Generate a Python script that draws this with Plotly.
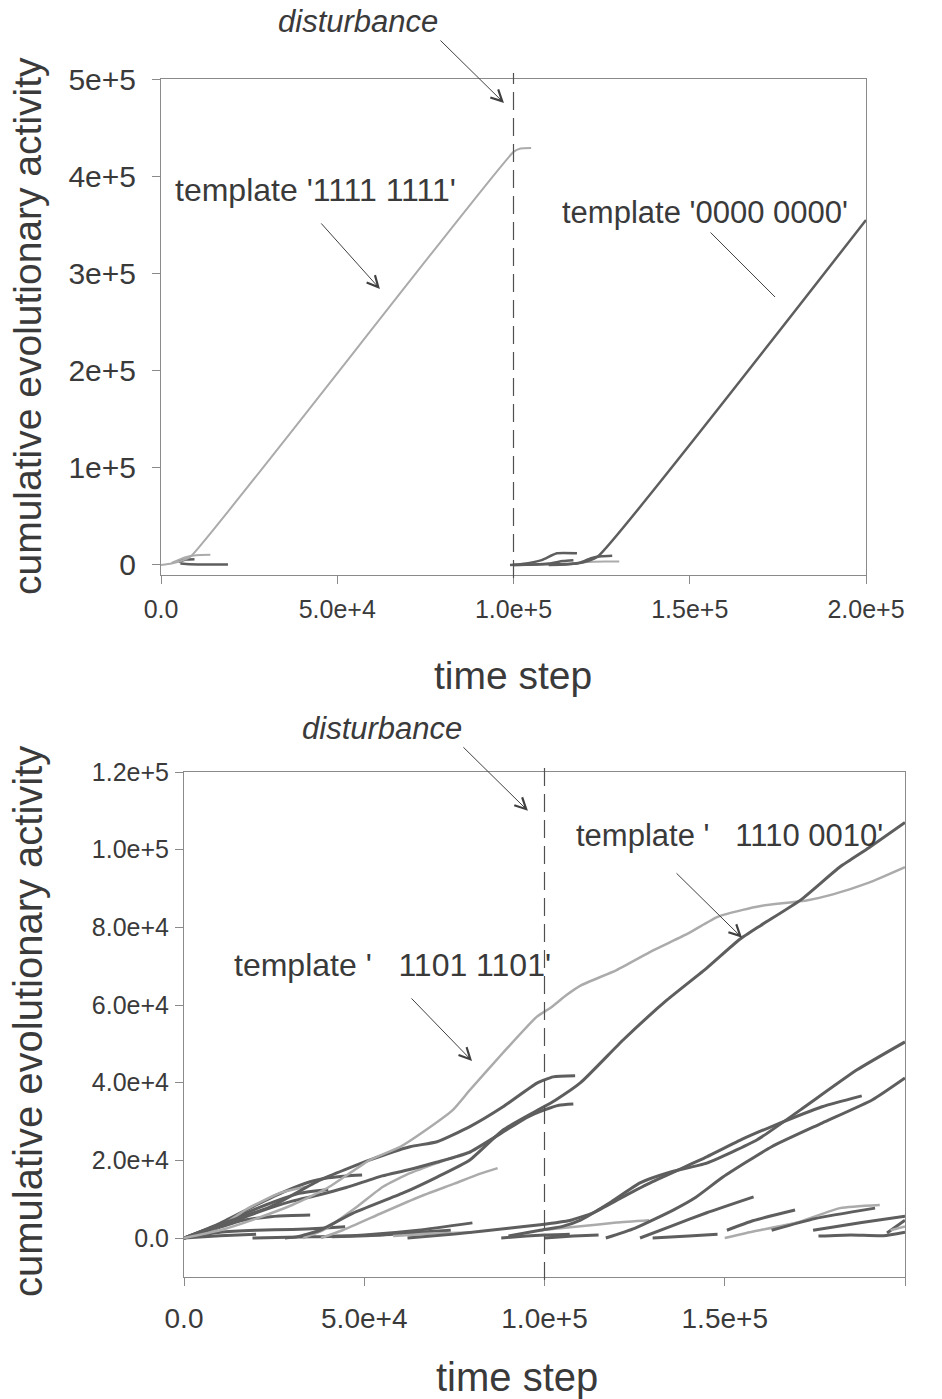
import plotly.graph_objects as go

# ---------------- data: top panel ----------------
top_t1111_x = [0, 3000, 6000, 8500, 100000, 102000, 105000]
top_t1111_y = [0, 1500, 4500, 9000, 425000, 428500, 429000]

top_e1_x = [5500, 8000, 12000, 19000]
top_e1_y = [1500, 800, 600, 500]
top_e2_x = [5000, 7000, 9500]
top_e2_y = [3000, 5500, 6000]
top_e3_x = [3000, 7000, 10000, 14000]
top_e3_y = [2000, 8000, 10000, 10500]

top_t0000_x = [100000, 106000, 112000, 118000, 121000, 124000, 200000]
top_t0000_y = [0, 500, 800, 1500, 4000, 9000, 355000]
top_p1_x = [99000, 102400, 108000, 112300, 118000]
top_p1_y = [0, 1000, 5000, 12000, 12000]
top_p2_x = [100000, 106000, 110000, 114000, 117000]
top_p2_y = [0, 500, 1500, 4000, 5000]
top_p3_x = [110000, 115000, 119000, 122000, 125000, 128000]
top_p3_y = [0, 500, 2500, 7000, 9000, 9500]
top_p4_x = [112000, 117000, 121000, 126000, 130000]
top_p4_y = [500, 1500, 3000, 3500, 3500]

top_xticks = [0, 50000, 100000, 150000, 200000]
top_xlabels = ["0.0", "5.0e+4", "1.0e+5", "1.5e+5", "2.0e+5"]
top_yticks = [0, 100000, 200000, 300000, 400000, 500000]
top_ylabels = ["0", "1e+5", "2e+5", "3e+5", "4e+5", "5e+5"]

# ---------------- data: bottom panel ----------------
bot_t1101_x = [0, 10000, 20000, 30000, 40000, 51600, 60000, 66300, 74600, 79300, 88500, 97900,
               102000, 106000, 110000, 120000, 130000, 140000, 148000, 155000, 160000, 173000,
               180000, 190000, 200000]
bot_t1101_y = [0, 2000, 5000, 8500, 13000, 20100, 23500, 27300, 33000, 38100, 47700, 57000,
               59500, 62500, 65000, 69000, 74000, 78500, 82700, 84500, 85500, 87000,
               88500, 91500, 95500]
bot_t1110_x = [28000, 31300, 37700, 46900, 60800, 70200, 79300, 88500, 97900, 103000,
               110000, 121800, 134000, 145000, 154000, 160000, 171000, 182000, 190000, 200000]
bot_t1110_y = [0, 300, 2000, 6400, 11600, 15700, 20100, 27800, 32800, 35500,
               40000, 51000, 61300, 69500, 76800, 80500, 87000, 95600, 100500, 107000]

bot_d1_x = [0, 10000, 23900, 37700, 51600, 62700, 70200, 79300, 88500, 97900, 102400, 108500]
bot_d1_y = [0, 3500, 8000, 14900, 20100, 23500, 24800, 28700, 33800, 39900, 41500, 41800]
bot_d3_x = [0, 10000, 20000, 30000, 37000, 45000, 55000, 62000, 70000, 79000, 88000, 95000,
            100000, 104000, 108000]
bot_d3_y = [0, 3000, 6500, 9500, 11000, 13000, 16000, 17500, 19500, 22000, 27000, 31000,
            33000, 34200, 34500]
bot_d4_x = [62000, 75000, 90000, 98800, 107000, 113500, 121800, 130000, 145000, 155000, 163000,
            177000, 188000]
bot_d4_y = [0, 1000, 2500, 3400, 4500, 6500, 10600, 14500, 20900, 25500, 28700, 33800, 36600]
bot_d5_x = [90000, 98800, 105000, 110000, 118000, 126500, 135000, 145000, 159000, 171000,
            186700, 200000]
bot_d5_y = [500, 2000, 3000, 4600, 9000, 14200, 17000, 19300, 25300, 33000, 43300, 50500]
bot_d6_x = [117000, 125000, 135700, 142000, 149500, 163000, 177000, 191000, 200000]
bot_d6_y = [0, 2500, 7200, 10500, 15700, 23500, 29600, 35600, 41200]

bot_s1_x = [0, 10000, 20000, 28000, 35000, 40000, 45000, 49400]
bot_s1_y = [0, 3800, 8500, 12000, 14500, 15500, 16000, 16200]
bot_s2_x = [0, 8000, 16000, 24000, 32000, 40000]
bot_s2_y = [0, 2800, 6000, 9000, 11500, 12500]
bot_s3_x = [0, 8000, 16000, 24000, 30000, 35000]
bot_s3_y = [0, 2200, 4500, 5500, 5800, 5900]
bot_s4_x = [0, 10000, 20000, 30000, 38000, 44700]
bot_s4_y = [0, 1500, 2000, 2200, 2500, 2900]
bot_s5_x = [0, 10000, 17500, 26600, 34000]
bot_s5_y = [0, 3000, 7500, 11600, 13200]
bot_s6_x = [33000, 38600, 47900, 55200, 62700, 70200, 79300]
bot_s6_y = [0, 2000, 8000, 13200, 16700, 19300, 22200]
bot_s7_x = [38000, 44000, 55000, 65000, 75000, 82000, 87000]
bot_s7_y = [0, 2000, 6500, 10500, 14000, 16500, 18000]

bot_f1_x = [19000, 35000, 50000, 65000, 80000]
bot_f1_y = [0, 300, 800, 2000, 3900]
bot_f2_x = [41000, 55000, 65000, 74000]
bot_f2_y = [300, 800, 1500, 2000]
bot_f3_x = [58000, 70000, 80000]
bot_f3_y = [500, 1200, 1500]
bot_f4_x = [0, 10000, 20000]
bot_f4_y = [0, 600, 1000]
bot_f5_x = [88000, 95000, 100000, 107000]
bot_f5_y = [0, 500, 800, 1000]

bot_g1_x = [98800, 110000, 120000, 129000]
bot_g1_y = [2000, 3000, 4000, 4600]
bot_g2_x = [126500, 135000, 145000, 158000]
bot_g2_y = [0, 3000, 6500, 10600]
bot_g3_x = [130000, 140000, 148000]
bot_g3_y = [0, 500, 1000]
bot_g4_x = [150600, 158000, 169500]
bot_g4_y = [2000, 4500, 7200]
bot_g5_x = [150000, 156000, 170000, 182000, 193000]
bot_g5_y = [0, 1300, 4000, 7700, 8500]
bot_g6_x = [163000, 175000, 191700]
bot_g6_y = [2000, 5000, 7700]
bot_g7_x = [174500, 188000, 200000]
bot_g7_y = [2000, 4000, 5600]
bot_g8_x = [195000, 200000]
bot_g8_y = [1300, 4600]
bot_g9_x = [196000, 200000]
bot_g9_y = [2000, 3000]
bot_g10_x = [176000, 185000, 194000, 200000]
bot_g10_y = [500, 800, 600, 1500]
bot_g11_x = [100000, 108000, 115000]
bot_g11_y = [0, 500, 800]

bot_xticks = [0, 50000, 100000, 150000, 200000]
bot_xlabels = ["0.0", "5.0e+4", "1.0e+5", "1.5e+5", "2.0e+5"]
bot_yticks = [0, 20000, 40000, 60000, 80000, 100000, 120000]
bot_ylabels = ["0.0", "2.0e+4", "4.0e+4", "6.0e+4", "8.0e+4", "1.0e+5", "1.2e+5"]

DISTURB = 100000

# ---------------- styling ----------------
DARK = "#5e5e5e"
LIGHT = "#ababab"
TXT = "#3a3a3a"
AX = "#8a8a8a"
FONT = "Liberation Sans, Arial, sans-serif"
W, H = 942, 1399

fig = go.Figure()

def add(x, y, color, width, axis):
    xa, ya = ("x", "y") if axis == 1 else ("x2", "y2")
    fig.add_trace(go.Scatter(x=x, y=y, mode="lines", xaxis=xa, yaxis=ya,
                             line=dict(color=color, width=width, shape="spline", smoothing=0.5),
                             hoverinfo="skip", showlegend=False))

# top panel traces
for x, y, c, w in [
    (top_e3_x, top_e3_y, LIGHT, 2), (top_e1_x, top_e1_y, DARK, 2.5), (top_e2_x, top_e2_y, DARK, 2.5),
    (top_p4_x, top_p4_y, LIGHT, 2), (top_p1_x, top_p1_y, DARK, 2.5), (top_p2_x, top_p2_y, DARK, 2.5),
    (top_p3_x, top_p3_y, DARK, 2.5),
    (top_t1111_x, top_t1111_y, LIGHT, 2), (top_t0000_x, top_t0000_y, DARK, 2.5)]:
    add(x, y, c, w, 1)

# bottom panel traces
bottom = [
    (bot_f4_x, bot_f4_y, DARK), (bot_f1_x, bot_f1_y, DARK), (bot_f2_x, bot_f2_y, DARK),
    (bot_f3_x, bot_f3_y, LIGHT), (bot_f5_x, bot_f5_y, DARK),
    (bot_s4_x, bot_s4_y, DARK), (bot_s3_x, bot_s3_y, DARK), (bot_s2_x, bot_s2_y, DARK),
    (bot_s1_x, bot_s1_y, DARK), (bot_s5_x, bot_s5_y, LIGHT), (bot_s6_x, bot_s6_y, LIGHT),
    (bot_s7_x, bot_s7_y, LIGHT),
    (bot_g1_x, bot_g1_y, LIGHT), (bot_g11_x, bot_g11_y, DARK), (bot_g2_x, bot_g2_y, DARK),
    (bot_g3_x, bot_g3_y, DARK), (bot_g4_x, bot_g4_y, DARK), (bot_g5_x, bot_g5_y, LIGHT),
    (bot_g6_x, bot_g6_y, DARK), (bot_g7_x, bot_g7_y, DARK), (bot_g8_x, bot_g8_y, DARK),
    (bot_g9_x, bot_g9_y, LIGHT), (bot_g10_x, bot_g10_y, DARK),
    (bot_d3_x, bot_d3_y, DARK), (bot_d1_x, bot_d1_y, DARK), (bot_d4_x, bot_d4_y, DARK),
    (bot_d5_x, bot_d5_y, DARK), (bot_d6_x, bot_d6_y, DARK),
    (bot_t1101_x, bot_t1101_y, LIGHT), (bot_t1110_x, bot_t1110_y, DARK),
]
for x, y, c in bottom:
    add(x, y, c, 3 if c == DARK else 2.5, 2)

# ---------------- layout ----------------
def px_x(p):
    return p / W

def px_y(p):
    return 1 - p / H

axis_common = dict(showline=True, linecolor=AX, linewidth=1, mirror=True, ticks="outside",
                   ticklen=8, tickcolor=AX, showgrid=False, zeroline=False, automargin=False,
                   tickmode="array")

def tf(size):
    return dict(family=FONT, size=size, color=TXT)

top_dom_x = [px_x(161), px_x(866)]
top_dom_y = [px_y(575), px_y(79)]
bot_dom_x = [px_x(184), px_x(905)]
bot_dom_y = [px_y(1277), px_y(772)]

fig.update_layout(
    width=W, height=H, margin=dict(l=0, r=0, t=0, b=0, autoexpand=False),
    paper_bgcolor="white", plot_bgcolor="white",
    xaxis=dict(domain=top_dom_x, range=[0, 200000], tickvals=top_xticks, ticktext=top_xlabels,
               anchor="y", ticklabelstandoff=4, tickfont=tf(25), **axis_common),
    yaxis=dict(domain=top_dom_y, range=[-10300, 500000], tickvals=top_yticks, ticktext=top_ylabels,
               anchor="x", ticklabelstandoff=10, tickfont=tf(30), **axis_common),
    xaxis2=dict(domain=bot_dom_x, range=[0, 200000], tickvals=bot_xticks, ticktext=bot_xlabels,
                anchor="y2", ticklabelstandoff=8, tickfont=tf(28), **axis_common),
    yaxis2=dict(domain=bot_dom_y, range=[-10040, 120000], tickvals=bot_yticks, ticktext=bot_ylabels,
                anchor="x2", ticklabelstandoff=1, tickfont=tf(25), **axis_common),
)

# disturbance dashed lines
fig.add_shape(type="line", xref="x", yref="paper", x0=DISTURB, x1=DISTURB,
              y0=px_y(578), y1=px_y(73), line=dict(color="#505050", width=1.2, dash="18px,8px"))
fig.add_shape(type="line", xref="x2", yref="paper", x0=DISTURB, x1=DISTURB,
              y0=px_y(1280), y1=px_y(768), line=dict(color="#505050", width=1.2, dash="18px,8px"))

# axis titles
titles = [
    ("cumulative evolutionary activity", 28, 326, -90, 39),
    ("cumulative evolutionary activity", 28, 1022, -90, 40),
    ("time step", 513, 675, 0, 39),
    ("time step", 517, 1377, 0, 40),
]
for t, x, y, a, s in titles:
    fig.add_annotation(text=t, x=px_x(x), y=px_y(y), xref="paper", yref="paper",
                       showarrow=False, textangle=a, font=tf(s),
                       xanchor="center", yanchor="middle")

# labels
labels = [
    ("<i>disturbance</i>", 358, 22, 31),
    ("template '1111 1111'", 315, 190, 32),
    ("template '0000 0000'", 705, 212, 31),
    ("<i>disturbance</i>", 382, 728, 31),
    ("template '\u00a0\u00a0\u00a01110 0010'", 729, 835, 31),
    ("template '\u00a0\u00a0\u00a01101 1101'", 392, 965, 32),
]
for t, x, y, s in labels:
    fig.add_annotation(text=t, x=px_x(x), y=px_y(y), xref="paper", yref="paper",
                       showarrow=False, font=tf(s),
                       xanchor="center", yanchor="middle")

# arrows (tip in data coordinates, tail offsets in px)
arrows = [
    ("x", "y", 97300, 475300, -65, -64, 5),
    ("x", "y", 62100, 284000, -60, -67, 5),
    ("x", "y", 174200, 275700, -66, -66, 0),
    ("x2", "y2", 95400, 110000, -66, -65, 5),
    ("x2", "y2", 154800, 77300, -67, -66, 5),
    ("x2", "y2", 79900, 45600, -62, -64, 5),
]
for xr, yr, x, y, ax, ay, head in arrows:
    fig.add_annotation(text="", x=x, y=y, xref=xr, yref=yr, ax=ax, ay=ay,
                       showarrow=True, arrowhead=head, arrowsize=2.2, arrowwidth=1,
                       arrowcolor="#404040", standoff=0)

fig.write_html("out.html", config={"displayModeBar": False},
               post_script="document.body.style.margin='0';")
